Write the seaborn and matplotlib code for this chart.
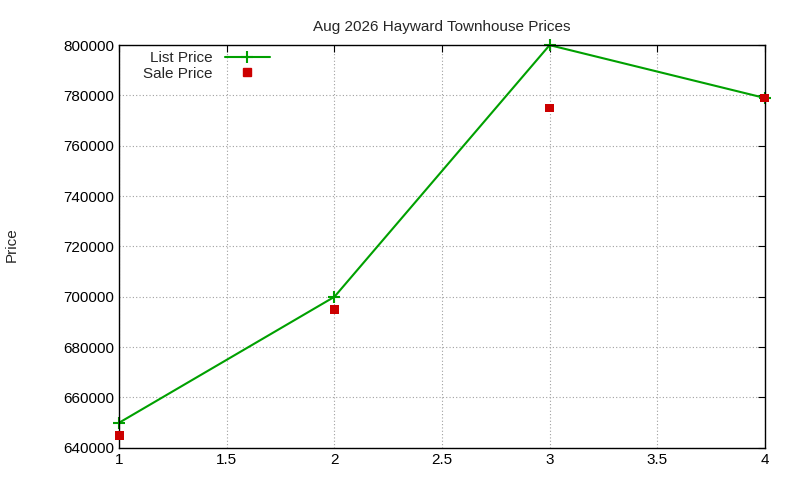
import matplotlib
matplotlib.use("Agg")
import matplotlib.pyplot as plt
from matplotlib.lines import Line2D
import seaborn as sns
import pandas as pd

x = [1, 2, 3, 4]
list_price = [650000, 700000, 800000, 779000]
sale_price = [645000, 695000, 775000, 779000]
xticks = [1, 1.5, 2, 2.5, 3, 3.5, 4]
yticks = list(range(640000, 800001, 20000))

sns.set_style("white")
plt.rcParams['font.family'] = ['Liberation Sans', 'DejaVu Sans']
plt.rcParams['font.size'] = 11

green = "#00a000"
red = "#cc0000"
df = pd.DataFrame({"x": x, "list": list_price, "sale": sale_price})
fig = plt.figure(figsize=(8, 4.8), dpi=100)
ax = fig.add_axes([0.149, 0.067, 0.807, 0.839])
sns.lineplot(data=df, x="x", y="list", ax=ax, color=green, marker="+",
             markersize=8, markeredgewidth=1.5, markeredgecolor=green,
             linewidth=1.5, clip_on=False, legend=False)
sns.scatterplot(data=df, x="x", y="sale", ax=ax, color=red, marker="s",
                s=40, edgecolor="none", zorder=3, clip_on=False, legend=False)
ax.set_xlim(1, 4)
ax.set_ylim(640000, 800000)
ax.set_xticks(xticks)
ax.set_xticklabels([f"{t:g}" for t in xticks])
ax.set_yticks(yticks)
ax.set_yticklabels([str(t) for t in yticks])
ax.grid(True, color="#a0a0a0", linestyle=(0, (1, 2)), linewidth=0.8)
ax.tick_params(direction="in", top=True, right=True, length=5, colors="black", labelsize=11)
for s in ax.spines.values():
    s.set_color("black"); s.set_linewidth(1)
ax.set_xlabel("")
ax.set_ylabel("")
fig.text(0.015, 0.49, "Price", rotation=90, va="center", ha="center", fontsize=11)
ax.set_title("Aug 2026 Hayward Townhouse Prices", fontsize=11, pad=10)
handles = [
    Line2D([], [], color=green, marker="+", markersize=8, markeredgewidth=1.5,
           linewidth=1.5, markevery=[1]),
    Line2D([], [], color=red, marker="s", markersize=6, linestyle="none"),
]
leg = ax.legend(handles, ["List Price", "Sale Price"], loc="upper left",
                bbox_to_anchor=(0.02, 1.012), frameon=False,
                markerfirst=False, fontsize=11, handlelength=3, borderaxespad=0.3,
                labelspacing=0.1, numpoints=1)
for t in leg.get_texts():
    t.set_ha("right")
leg._legend_box.align = "right"
fig.savefig("out.png", dpi=100)
